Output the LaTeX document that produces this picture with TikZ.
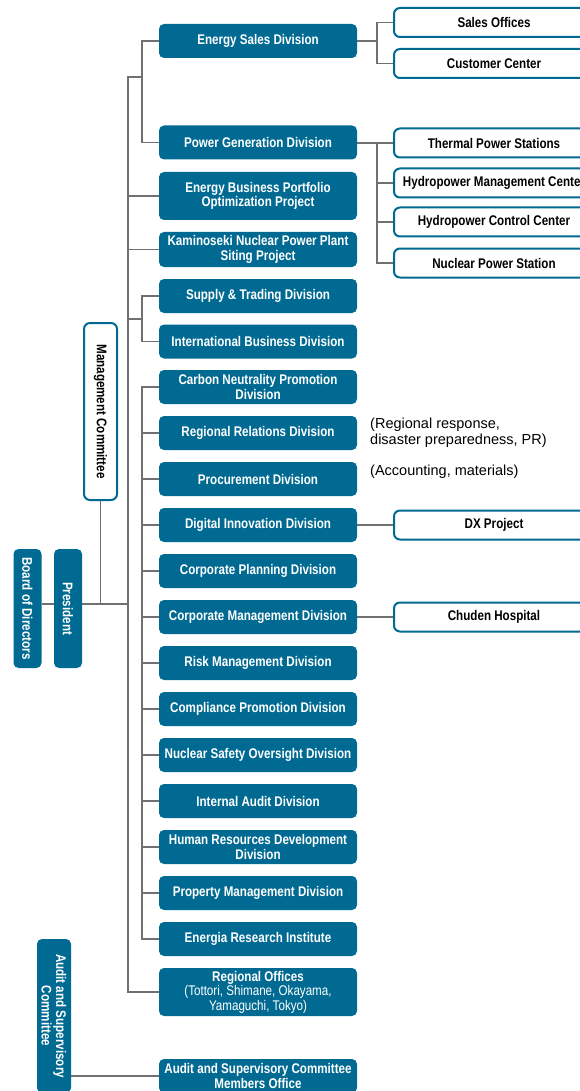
\documentclass[tikz,border=0pt]{standalone}
\usepackage{fontspec}
\setmainfont{Liberation Sans}
\newfontfamily\cond[FakeStretch=0.83]{Liberation Sans}
\definecolor{cblue}{RGB}{0,106,146}
\definecolor{cline}{RGB}{112,112,112}
\begin{document}
\begin{tikzpicture}[x=1pt,y=-1pt,
  conn/.style={draw=cline, line width=1.4pt},
  mainbox/.style={fill=cblue, rounded corners=5pt, minimum width=198pt, minimum height=34pt, inner sep=0pt, text=white, font=\cond\bfseries\fontsize{14}{14.5}\selectfont, align=center},
  tallbox/.style={mainbox, minimum height=48pt},
  subbox/.style={draw=cblue, line width=2pt, fill=white, rounded corners=6pt, minimum width=200pt, minimum height=29pt, inner sep=0pt, text=black, font=\cond\bfseries\fontsize{14}{14.5}\selectfont, align=center},
  vbox/.style={fill=cblue, rounded corners=5pt, rotate=-90, inner sep=0pt, text=white, font=\cond\bfseries\fontsize{14}{14.5}\selectfont, align=center},
  vwbox/.style={draw=cblue, line width=2pt, fill=white, rounded corners=6pt, rotate=-90, inner sep=0pt, text=black, font=\cond\bfseries\fontsize{14}{14.5}\selectfont, align=center},
  note/.style={anchor=west, align=left, inner sep=0pt, font=\fontsize{14.5}{16}\selectfont}]
\useasboundingbox (0,0) rectangle (580,1091);
\fill[white] (0,0) rectangle (580,1091);
\clip (0,0) rectangle (580,1091);

% left column
\node[vbox, minimum width=119pt, minimum height=28pt] (bod) at (27.5,608.5) {Board of Directors};
\node[vbox, minimum width=119pt, minimum height=28pt] (pres) at (68,608.5) {President};
\node[vwbox, minimum width=177pt, minimum height=33pt] (mc) at (100.5,411.5) {Management Committee};
\node[vbox, minimum width=154pt, minimum height=34pt] (asc) at (54,1016) {Audit and Supervisory\\Committee};

% main boxes
\node[mainbox] (esd) at (258,41) {Energy Sales Division};
\node[mainbox] (pgd) at (258,142.5) {Power Generation Division};
\node[tallbox] (ebp) at (258,196) {Energy Business Portfolio\\Optimization Project};
\node[mainbox, minimum height=35pt] (kam) at (258,249.5) {Kaminoseki Nuclear Power Plant\\Siting Project};
\node[mainbox] (sup) at (258,296) {Supply \& Trading Division};
\node[mainbox] (intl) at (258,341.5) {International Business Division};
\node[mainbox] (cn) at (258,387) {Carbon Neutrality Promotion\\Division};
\node[mainbox] (rr) at (258,433) {Regional Relations Division};
\node[mainbox] (proc) at (258,479) {Procurement Division};
\node[mainbox] (did) at (258,525) {Digital Innovation Division};
\node[mainbox] (cp) at (258,571) {Corporate Planning Division};
\node[mainbox] (cmd) at (258,617) {Corporate Management Division};
\node[mainbox] (risk) at (258,663) {Risk Management Division};
\node[mainbox] (comp) at (258,709) {Compliance Promotion Division};
\node[mainbox] (nso) at (258,755) {Nuclear Safety Oversight Division};
\node[mainbox] (iad) at (258,801) {Internal Audit Division};
\node[mainbox] (hrd) at (258,847) {Human Resources Development\\Division};
\node[mainbox] (pmd) at (258,893) {Property Management Division};
\node[mainbox] (eri) at (258,939) {Energia Research Institute};
\node[tallbox] (ro) at (258,992) {Regional Offices\\{\mdseries(Tottori, Shimane, Okayama,}\\{\mdseries Yamaguchi, Tokyo)}};
\node[mainbox, minimum height=34pt] (aso) at (258,1076) {Audit and Supervisory Committee\\Members Office};

% notes
\node[note] (n1) at (370,433) {(Regional response,\\disaster preparedness, PR)};
\node[note] (n2) at (370,471.5) {(Accounting, materials)};

% right boxes
\node[subbox] (so) at (494,22.5) {Sales Offices};
\node[subbox] (cc) at (494,63.5) {Customer Center};
\node[subbox] (tps) at (494,143) {Thermal Power Stations};
\node[subbox] (hmc) at (494,183) {Hydropower Management Center};
\node[subbox] (hcc) at (494,222) {Hydropower Control Center};
\node[subbox] (nps) at (494,263) {Nuclear Power Station};
\node[subbox] (dx) at (494,525) {DX Project};
\node[subbox] (ch) at (494,617) {Chuden Hospital};

% trunk and branches
\coordinate (t0) at (128,77);
\coordinate (a1) at (142,77);
\coordinate (a2) at (142,319);
\coordinate (a3) at (142,939);
\coordinate (p) at (128,604);

\draw[conn] (ro.west) -| (t0) -- (a1);
\draw[conn] (esd.west) -| (a1);
\draw[conn] (pgd.west) -| (a1);
\draw[conn] (ebp.west) -- (ebp.west -| t0);
\draw[conn] (kam.west) -- (kam.west -| t0);
\draw[conn] (t0 |- a2) -- (a2);
\draw[conn] (sup.west) -| (a2);
\draw[conn] (intl.west) -| (a2);
\draw[conn] (cn.west) -| (a3) -- (eri.west);
\foreach \n in {rr,proc,did,cp,cmd,risk,comp,nso,iad,hrd,pmd}
  \draw[conn] (\n.west) -- (\n.west -| a3);

% left connections
\draw[conn] (bod.north |- p) -- (pres.south |- p);
\draw[conn] (pres.north |- p) -- (p);
\draw[conn] (mc.east) -- (mc.east |- p);
\draw[conn] (asc.north |- aso.west) -- (aso.west);

% right connections
\coordinate (b1) at (377,41);
\coordinate (b2) at (377,143);
\draw[conn] (esd.east) -- (b1);
\draw[conn] (so.west) -| (b1);
\draw[conn] (cc.west) -| (b1);
\draw[conn] (pgd.east |- tps.west) -- (tps.west);
\draw[conn] (nps.west) -| (b2);
\draw[conn] (hmc.west) -- (hmc.west -| b2);
\draw[conn] (hcc.west) -- (hcc.west -| b2);
\draw[conn] (did.east) -- (dx.west);
\draw[conn] (cmd.east) -- (ch.west);
\end{tikzpicture}
\end{document}
